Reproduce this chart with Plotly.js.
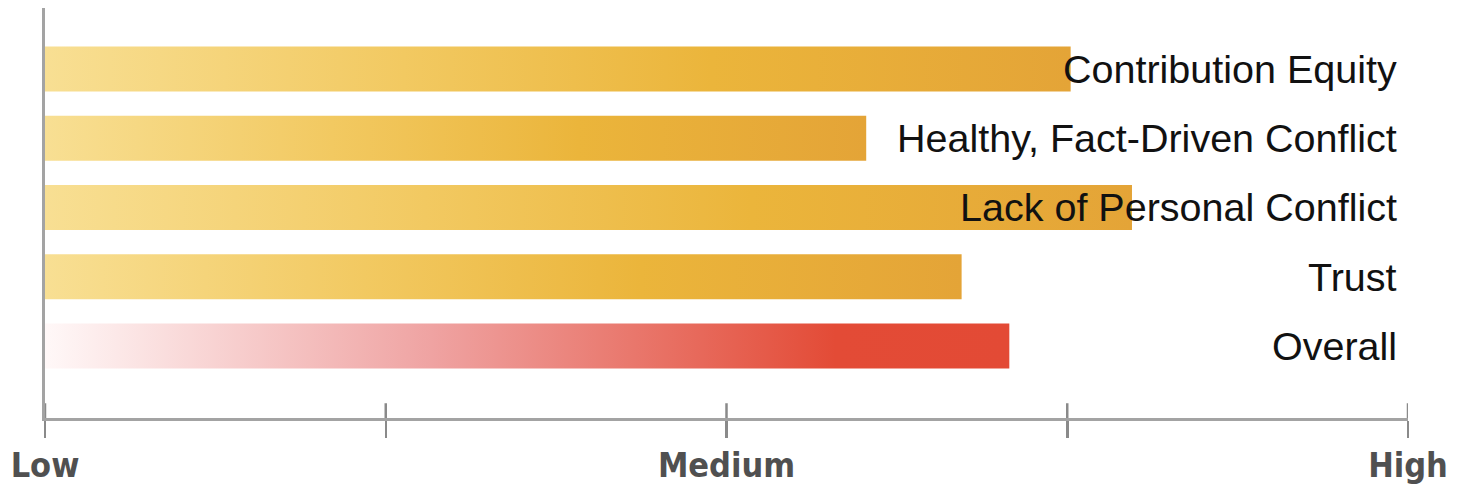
<!DOCTYPE html>
<html>
<head>
<meta charset="utf-8">
<script src="https://cdn.plot.ly/plotly-3.0.1.min.js"></script>
<style>
  html, body { margin: 0; padding: 0; background: #ffffff; }
  #chart { width: 1458px; height: 486px; }
</style>
</head>
<body>
<div id="chart"></div>
<script>
// Team dimension scores on a Low–High scale (0 = Low, 4 = High), bottom to top
const categories = ['Overall', 'Trust', 'Lack of Personal Conflict', 'Healthy, Fact-Driven Conflict', 'Contribution Equity'];
const scores = [2.83, 2.69, 3.19, 2.41, 3.01];
const scaleTicks = [0, 1, 2, 3, 4];
const scaleLabels = ['Low', '', 'Medium', '', 'High'];

const BAR_HALF = 0.325;

const amberScale = [[0, '#f8df93'], [0.35, '#f2c961'], [0.65, '#ebb53b'], [1, '#e4a437']];
const redScale = [[0, '#fff8f8'], [0.4, '#efa3a2'], [0.82, '#e34b36'], [1, '#e34a35']];

// Each bar is a filled rectangle so it can carry a left-to-right gradient
const traces = categories.map((name, i) => ({
  type: 'scatter',
  mode: 'lines',
  x: [0, scores[i], scores[i], 0, 0],
  y: [i - BAR_HALF, i - BAR_HALF, i + BAR_HALF, i + BAR_HALF, i - BAR_HALF],
  fill: 'toself',
  line: { width: 0 },
  fillgradient: {
    type: 'horizontal',
    colorscale: name === 'Overall' ? redScale : amberScale
  },
  hoverinfo: 'text',
  text: name,
  showlegend: false
}));

// Category names sit at the right edge, drawn over the bars
const annotations = categories.map((name, i) => ({
  xref: 'x', yref: 'y',
  x: 4, y: i,
  xshift: -9,
  xanchor: 'right', yanchor: 'middle',
  text: name,
  showarrow: false,
  font: { family: 'Liberation Sans, Arial, sans-serif', size: 39.5, color: '#111111' }
}));

// Upper halves of the scale ticks, so each tick crosses the axis line
const shapes = scaleTicks.map(t => ({
  type: 'line', xref: 'x', yref: 'paper',
  x0: t, x1: t, y0: 0, y1: 0.036,
  line: { color: '#8a8a8a', width: 2.5 }
}));

const layout = {
  width: 1458, height: 486,
  margin: { l: 45, r: 50, t: 8, b: 68 },
  paper_bgcolor: '#ffffff',
  plot_bgcolor: '#ffffff',
  xaxis: {
    range: [0, 4],
    tickvals: scaleTicks,
    ticktext: scaleLabels,
    ticks: 'outside',
    ticklen: 17,
    tickwidth: 2.5,
    tickcolor: '#8a8a8a',
    ticklabelstandoff: -2,
    showline: true,
    linecolor: '#a3a3a3',
    linewidth: 3,
    showgrid: false,
    zeroline: false,
    fixedrange: true,
    tickfont: { family: 'DejaVu Sans Condensed, Liberation Sans Narrow, sans-serif', size: 34, color: '#505050', weight: 'bold' }
  },
  yaxis: {
    range: [-1.04, 4.88],
    showticklabels: false,
    ticks: '',
    showline: true,
    linecolor: '#a3a3a3',
    linewidth: 3,
    showgrid: false,
    zeroline: false,
    fixedrange: true
  },
  annotations: annotations,
  shapes: shapes
};

Plotly.newPlot('chart', traces, layout, { displayModeBar: false, staticPlot: true });
</script>
</body>
</html>
